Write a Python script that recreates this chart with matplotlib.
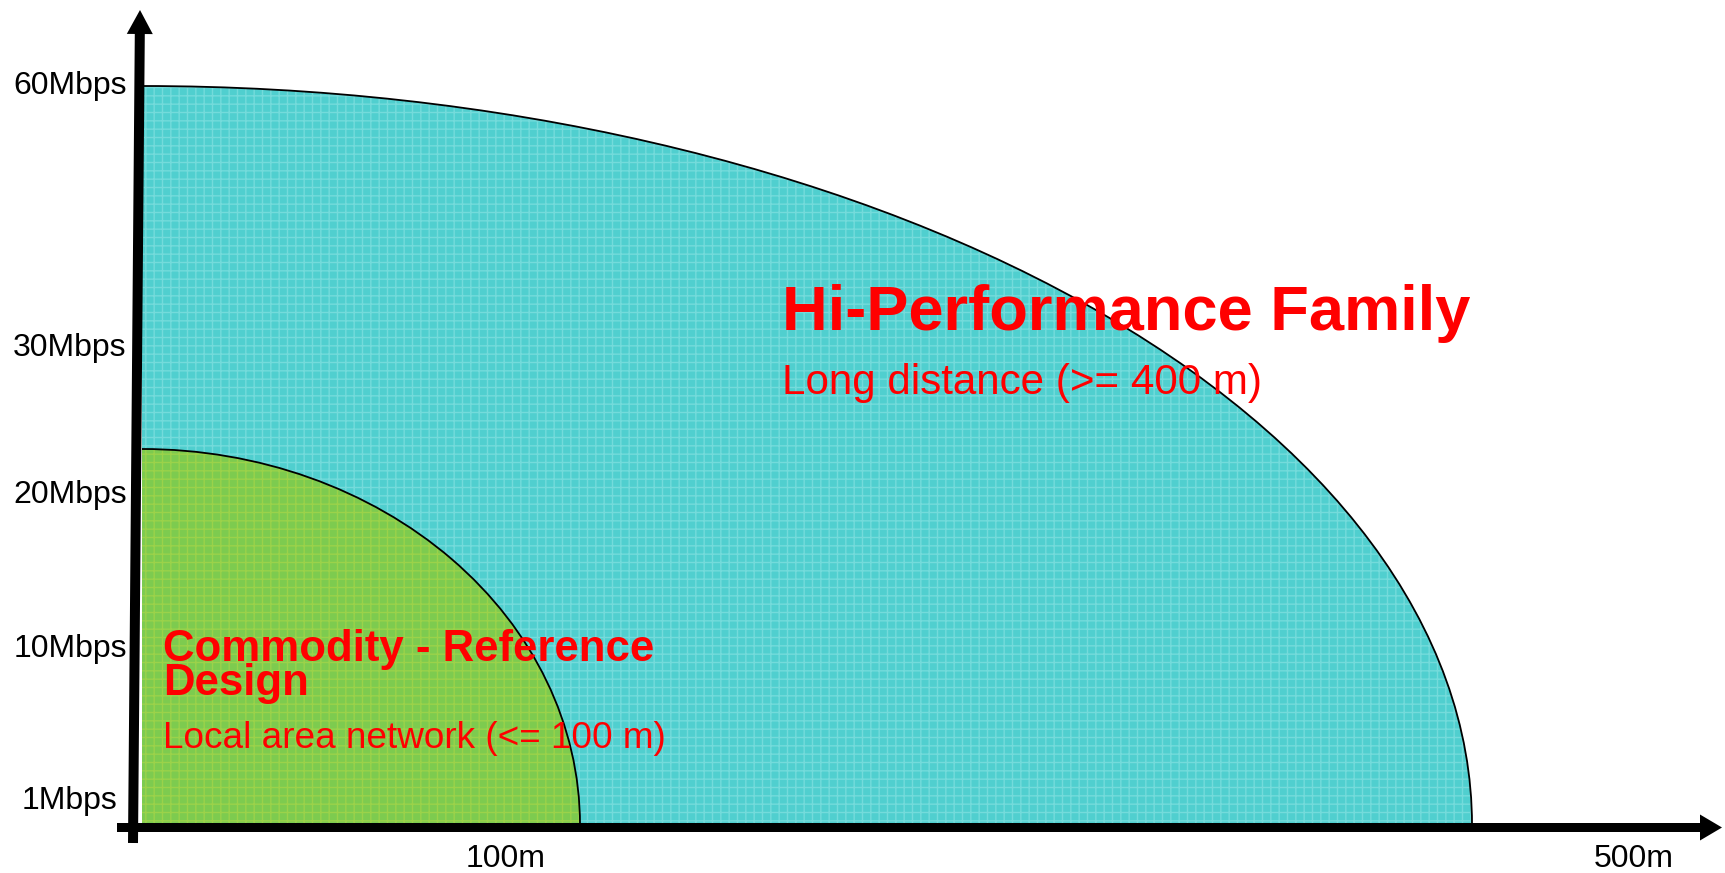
import matplotlib
matplotlib.use("Agg")
import matplotlib.pyplot as plt
from matplotlib import font_manager
from matplotlib.patches import Ellipse, Arc, Rectangle

# schematic units: 1 unit = 1 output pixel, origin at the corner of the two axes
family_names = ["Hi-Performance Family", "Commodity - Reference\nDesign"]
family_notes = ["Long distance (>= 400 m)", "Local area network (<= 100 m)"]
reach = [1330, 438]          # horizontal extent of each family
peak_rate = [739, 376]       # vertical extent of each family
fill_colors = ["#50cfcf", "#7dcb4f"]
grid_colors = ["#74dbdb", "#9bd24a"]

rate_labels = ["1Mbps", "10Mbps", "20Mbps", "30Mbps", "60Mbps"]
rate_pos = [24, 176, 330, 477, 739]
dist_labels = ["100m", "500m"]
dist_pos = [364, 1492]

RED = "#ff0000"

def has_font(name):
    try:
        font_manager.findfont(name, fallback_to_default=False)
        return True
    except Exception:
        return False

narrow = has_font("Liberation Sans Narrow")
note_family = "Liberation Sans Narrow" if narrow else "Liberation Sans"
note_scale = 1.0 if narrow else 0.82

plt.rcParams["font.family"] = ["Liberation Sans", "DejaVu Sans"]
plt.rcParams["hatch.linewidth"] = 1.0

fig = plt.figure(figsize=(17.25, 8.73), dpi=100)
ax = fig.add_axes([0, 0, 1, 1])
ax.set_xlim(-142, 1725 - 142)
ax.set_ylim(-48, 825)
ax.axis("off")

clip = Rectangle((0, 0), 5000, 5000, transform=ax.transData)
for r, h, fc, gc in zip(reach, peak_rate, fill_colors, grid_colors):
    e = Ellipse((0, 0), 2 * r, 2 * h, facecolor=fc, edgecolor=gc, hatch="++", lw=0)
    ax.add_patch(e)
    e.set_clip_path(clip)
    ax.add_patch(Arc((0, 0), 2 * r, 2 * h, theta1=0, theta2=90, color="black", lw=1.3))

# axes drawn as thick arrows
ax.arrow(-25, -2.5, 1605, 0, width=9, head_width=26, head_length=22,
         length_includes_head=True, fc="black", ec="none", zorder=5)
ax.arrow(-9, -18, 7, 833, width=10, head_width=26, head_length=24,
         length_includes_head=True, fc="black", ec="none", zorder=5)

for lab, y in zip(rate_labels, rate_pos):
    ax.text(-72, y, lab, ha="center", va="center", fontsize=23, color="black")
for lab, x in zip(dist_labels, dist_pos):
    ax.text(x, -34, lab, ha="center", va="center", fontsize=23, color="black")

# Hi-Performance text
ax.text(640, 495, family_names[0], ha="left", va="baseline", fontsize=45.5,
        fontweight="bold", color=RED)
ax.text(640, 431, family_notes[0], ha="left", va="baseline",
        fontsize=37 * note_scale, family=note_family, color=RED)

# Commodity text
ax.text(21, 130, family_names[1], ha="left", va="baseline", fontsize=31.5,
        fontweight="bold", color=RED, linespacing=0.78)
ax.text(21, 77, family_notes[1], ha="left", va="baseline",
        fontsize=32.4 * note_scale, family=note_family, color=RED)

fig.savefig("out.png", dpi=100)
